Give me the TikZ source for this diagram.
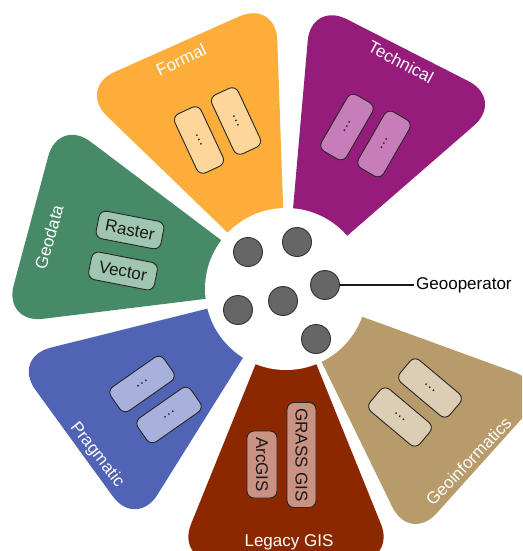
\documentclass[tikz,border=0pt]{standalone}
\usepackage{fontspec}
\setmainfont{Liberation Sans}
\definecolor{cOrange}{RGB}{252,173,58}
\definecolor{cOrangeL}{RGB}{254,214,156}
\definecolor{cPurple}{RGB}{150,28,124}
\definecolor{cPurpleL}{RGB}{199,125,185}
\definecolor{cGreen}{RGB}{71,138,103}
\definecolor{cGreenL}{RGB}{160,197,176}
\definecolor{cBlue}{RGB}{80,99,180}
\definecolor{cBlueL}{RGB}{168,176,220}
\definecolor{cBrown}{RGB}{140,40,0}
\definecolor{cBrownL}{RGB}{201,146,130}
\definecolor{cTan}{RGB}{184,155,107}
\definecolor{cTanL}{RGB}{220,206,181}
\definecolor{cGray}{RGB}{102,102,102}
% #1 angle, #2 colour, #3 outer radius
\newcommand\petalshape[3]{%
  \begin{scope}[shift={(286,-289)}, rotate=#1]
    \pgfmathsetmacro\plat{#3*0.404}
    \fill[#2, rounded corners=40pt] (30,-12.1) -- (#3,-\plat) -- (#3,\plat) -- (30,12.1) -- cycle;
  \end{scope}}
\begin{document}
\begin{tikzpicture}[x=1pt,y=1pt,
  lbl/.style={text=white, font=\fontsize{17}{20}\selectfont, inner sep=0pt},
  box/.style={draw=black!85, line width=0.9pt, rounded corners=7pt,
    minimum width=65pt, minimum height=29pt, inner sep=0pt,
    font=\fontsize{17}{20}\selectfont, text=black!90},
  dotbox/.style={box, font=\fontsize{15}{18}\selectfont},
  grayc/.style={circle, fill=cGray, draw=black!80, line width=0.9pt,
    minimum size=29pt, inner sep=0pt}]
\useasboundingbox (0,0) rectangle (522,-551);
\begin{scope}
\clip (0,0) rectangle (522,-551);
\petalshape{63}{cPurple}{268}
\petalshape{114}{cOrange}{268}
\petalshape{165}{cGreen}{264}
\petalshape{216}{cBlue}{262}
\petalshape{270}{cBrown}{272}
\petalshape{318}{cTan}{262}
\fill[white] (286,-289) circle[radius=81];

% labels
\node[lbl, rotate=25] (lformal) at (181,-60) {Formal};
\node[lbl, rotate=-28] (ltech) at (401,-62) {Technical};
\node[lbl, rotate=74] (lgeodata) at (49,-237) {Geodata};
\node[lbl, rotate=-52] (lprag) at (97,-455) {Pragmatic};
\node[lbl] (llegacy) at (289,-542) {Legacy GIS};
\node[lbl, rotate=46] (lgeoinf) at (468.5,-461.5) {Geoinformatics};

% boxes
\node[dotbox, fill=cOrangeL, rotate=-65] (f1) at (199,-140) {…};
\node[dotbox, fill=cOrangeL, rotate=-65] (f2) at (236,-121) {…};
\node[dotbox, fill=cPurpleL, rotate=60] (t1) at (347,-127) {…};
\node[dotbox, fill=cPurpleL, rotate=60] (t2) at (384,-144) {…};
\node[box, fill=cGreenL, rotate=-11, minimum width=66pt, minimum height=28pt] (raster) at (130,-230) {Raster};
\node[box, fill=cGreenL, rotate=-11, minimum width=67pt, minimum height=28pt] (vector) at (123,-271) {Vector};
\node[dotbox, fill=cBlueL, rotate=35] (p1) at (142,-384) {…};
\node[dotbox, fill=cBlueL, rotate=35] (p2) at (169,-415) {…};
\node[box, fill=cBrownL, rotate=-90, minimum width=67pt, minimum height=30pt] (arcgis) at (262,-464.5) {ArcGIS};
\node[box, fill=cBrownL, rotate=-90, minimum width=105pt, minimum height=29pt] (grass) at (301.5,-455) {GRASS GIS};
\node[dotbox, fill=cTanL, rotate=-40] (g1b) at (430,-388) {…};
\node[dotbox, fill=cTanL, rotate=-40] (g2b) at (400,-417) {…};

% geooperators
\node[grayc] (c1) at (248,-252) {};
\node[grayc] (c2) at (297,-242) {};
\node[grayc] (c3) at (325,-285) {};
\node[grayc] (c4) at (238,-310) {};
\node[grayc] (c5) at (283,-301) {};
\node[grayc] (c6) at (316,-339) {};
\node[anchor=west, inner sep=2pt, font=\fontsize{17}{20}\selectfont] (geo) at (414,-285) {Geooperator};
\draw[line width=1.6pt, black!90] (c3.east) -- (geo.west);
\end{scope}
\end{tikzpicture}
\end{document}
